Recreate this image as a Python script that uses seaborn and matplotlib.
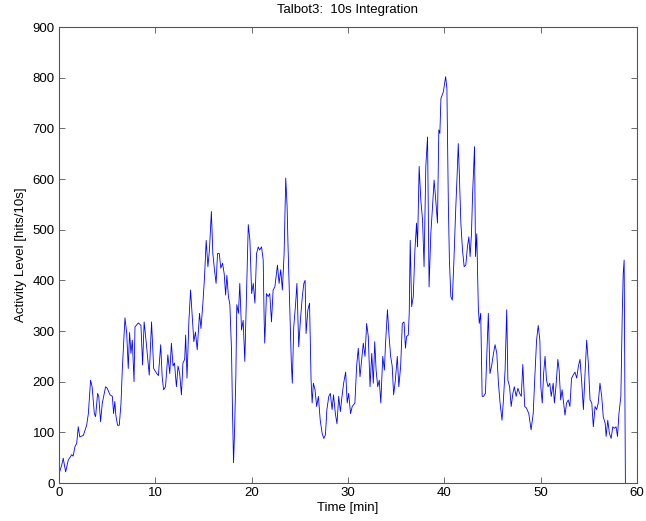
import numpy as np
import pandas as pd
import matplotlib
matplotlib.use('Agg')
import matplotlib.pyplot as plt
import seaborn as sns

# time [min] and activity [hits/10s]
time_min = [
    0, 0.28, 0.44, 0.69, 0.96, 1.32, 1.47, 1.66, 1.84, 2.0, 2.16, 2.53, 2.87, 3.05, 3.28, 3.44,
    3.67, 3.8, 4.01, 4.13, 4.32, 4.49, 4.84, 5.01, 5.3, 5.54, 5.67, 5.8, 5.9, 6.08, 6.26, 6.44,
    6.57, 6.75, 6.85, 7.03, 7.19, 7.33, 7.47, 7.61, 7.79, 7.89, 8.24, 8.51, 8.68, 8.84, 9.08,
    9.37, 9.61, 9.83, 10.15, 10.32, 10.56, 10.71, 10.86, 11.06, 11.3, 11.5, 11.67, 11.84, 11.99,
    12.19, 12.36, 12.53, 12.71, 12.87, 13.05, 13.15, 13.29, 13.49, 13.66, 13.83, 14.0, 14.17,
    14.35, 14.59, 14.74, 14.94, 15.11, 15.28, 15.46, 15.62, 15.82, 15.97, 16.14, 16.31, 16.46,
    16.64, 16.8, 16.98, 17.15, 17.3, 17.43, 17.59, 17.74, 17.91, 18.01, 18.12, 18.22, 18.36,
    18.46, 18.63, 18.77, 18.95, 19.12, 19.29, 19.46, 19.65, 19.82, 20.0, 20.17, 20.34, 20.51,
    20.69, 20.83, 21.03, 21.2, 21.3, 21.36, 21.54, 21.72, 21.88, 22.06, 22.23, 22.41, 22.57,
    22.68, 22.85, 23.02, 23.19, 23.37, 23.54, 23.68, 23.78, 23.95, 24.12, 24.22, 24.37, 24.57,
    24.7, 24.89, 25.06, 25.26, 25.42, 25.55, 25.65, 25.84, 26.01, 26.17, 26.28, 26.41, 26.58,
    26.75, 26.93, 27.12, 27.32, 27.49, 27.66, 27.81, 28.01, 28.17, 28.35, 28.5, 28.69, 28.86,
    29.04, 29.21, 29.38, 29.55, 29.76, 29.92, 30.07, 30.27, 30.44, 30.72, 30.9, 31.07, 31.25,
    31.42, 31.59, 31.77, 31.94, 32.11, 32.29, 32.47, 32.63, 32.78, 32.92, 33.09, 33.25, 33.41,
    33.61, 33.78, 33.9, 34.1, 34.27, 34.43, 34.59, 34.74, 34.92, 35.12, 35.28, 35.47, 35.64,
    35.82, 35.97, 36.08, 36.26, 36.36, 36.46, 36.61, 36.78, 36.95, 37.12, 37.22, 37.39, 37.56,
    37.74, 37.9, 38.08, 38.26, 38.42, 38.6, 38.78, 38.94, 39.11, 39.29, 39.43, 39.54, 39.65,
    39.9, 40.14, 40.27, 40.42, 40.53, 40.68, 40.83, 41.0, 41.17, 41.34, 41.45, 41.57, 41.72,
    41.89, 42.06, 42.23, 42.4, 42.55, 42.68, 42.82, 42.94, 43.14, 43.24, 43.37, 43.53, 43.63,
    43.78, 43.93, 44.07, 44.27, 44.42, 44.57, 44.74, 44.91, 45.11, 45.27, 45.45, 45.62, 45.79,
    45.99, 46.14, 46.31, 46.48, 46.6, 46.78, 46.94, 47.12, 47.27, 47.46, 47.64, 47.82, 47.99,
    48.15, 48.35, 48.53, 48.77, 49.01, 49.23, 49.4, 49.58, 49.75, 49.92, 50.02, 50.17, 50.31,
    50.46, 50.61, 50.77, 50.95, 51.1, 51.3, 51.43, 51.59, 51.79, 51.92, 52.08, 52.23, 52.38,
    52.53, 52.69, 52.87, 53.04, 53.21, 53.39, 53.56, 53.75, 53.92, 54.09, 54.25, 54.44, 54.61,
    54.78, 54.95, 55.13, 55.31, 55.47, 55.65, 55.82, 55.98, 56.16, 56.34, 56.5, 56.7, 56.8,
    56.97, 57.14, 57.32, 57.49, 57.65, 57.83, 57.98, 58.13, 58.33, 58.47, 58.57, 58.67, 58.77,
    58.8,
]
activity = [
    18, 35, 49, 22, 45, 56, 53, 72, 78, 111, 91, 94, 114, 137, 203, 190,
    137, 131, 177, 171, 121, 157, 190, 187, 174, 171, 137, 161, 134, 114, 114, 158,
    223, 289, 326, 296, 226, 297, 256, 282, 200, 308, 316, 311, 233, 318, 273,
    213, 318, 226, 216, 212, 273, 210, 184, 190, 253, 216, 276, 231, 237,
    190, 231, 216, 174, 237, 244, 292, 207, 321, 381, 329, 279, 298,
    263, 335, 305, 355, 407, 479, 427, 460, 536, 453, 421, 394, 453,
    453, 424, 434, 413, 371, 410, 368, 352, 263, 145, 40, 98, 210,
    352, 335, 394, 302, 321, 240, 368, 510, 479, 374, 394, 355, 453,
    466, 460, 466, 440, 321, 276, 374, 368, 374, 318, 381, 387, 413,
    430, 394, 421, 381, 453, 602, 546, 466, 355, 237, 197, 308, 355,
    394, 269, 321, 368, 394, 400, 295, 342, 355, 203, 158, 197, 184,
    151, 171, 124, 98, 88, 95, 145, 171, 177, 145, 174, 137, 117,
    171, 141, 171, 197, 219, 158, 177, 137, 151, 158, 231, 266, 210,
    244, 276, 250, 315, 289, 190, 256, 197, 279, 223, 190, 203, 158,
    250, 223, 276, 342, 289, 250, 231, 174, 203, 250, 190, 231, 315,
    318, 266, 289, 292, 335, 479, 348, 368, 460, 513, 466, 625, 559,
    520, 427, 625, 683, 387, 492, 546, 598, 559, 513, 697, 690, 759,
    772, 802, 779, 552, 440, 368, 361, 440, 533, 612, 670, 605, 513,
    460, 427, 430, 466, 486, 447, 492, 572, 664, 447, 492, 348, 315,
    335, 171, 171, 177, 256, 335, 216, 231, 256, 273, 256, 197, 158,
    124, 164, 223, 342, 203, 190, 151, 177, 190, 171, 187, 177, 171,
    234, 151, 148, 137, 105, 137, 210, 282, 311, 282, 190, 158, 216,
    250, 203, 190, 197, 171, 197, 158, 190, 244, 223, 164, 184, 158,
    134, 158, 164, 151, 207, 213, 219, 207, 231, 244, 203, 145, 216,
    282, 237, 164, 158, 111, 151, 145, 158, 197, 171, 131, 118, 92,
    124, 98, 88, 111, 108, 111, 92, 137, 171, 329, 413, 440, 111,
    0,
]

df = pd.DataFrame({'time': time_min, 'level': activity})

plt.rcParams['font.family'] = ['Liberation Sans', 'DejaVu Sans']
plt.rcParams['font.size'] = 9

fig = plt.figure(figsize=(6.46, 5.21), dpi=100)
ax = fig.add_axes([0.0913, 0.0729, 0.8947, 0.8752])

sns.lineplot(data=df, x='time', y='level', color='#0000ff', linewidth=0.6,
             sort=False, estimator=None, ax=ax)

ax.set_xlim(0, 60)
ax.set_ylim(0, 900)
ax.set_xticks(range(0, 61, 10))
ax.set_yticks(range(0, 901, 100))
ax.tick_params(direction='in', top=True, right=True, length=4, width=0.6,
               color='#555555', labelsize=9.5, pad=3)
for s in ax.spines.values():
    s.set_color('#555555')
    s.set_linewidth(0.8)

ax.set_xlabel('Time [min]', fontsize=9.5, labelpad=2)
ax.set_ylabel('Activity Level [hits/10s]', fontsize=9.5, labelpad=4)
ax.set_title('Talbot3:  10s Integration', fontsize=9.5, pad=10)

fig.savefig('out.png', dpi=100)
